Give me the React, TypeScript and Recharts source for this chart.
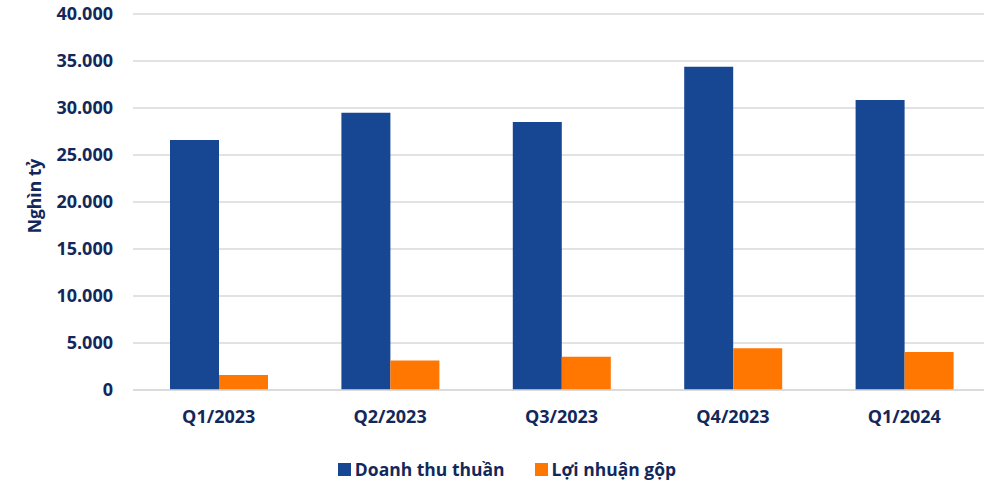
import React from 'react';
import { BarChart, Bar, XAxis, YAxis, CartesianGrid, Legend } from 'recharts';

const quarters = ['Q1/2023', 'Q2/2023', 'Q3/2023', 'Q4/2023', 'Q1/2024'];
const doanhThu = [26600, 29500, 28500, 34400, 30850];
const loiNhuan = [1600, 3150, 3550, 4450, 4050];
const yTicks = [0, 5000, 10000, 15000, 20000, 25000, 30000, 35000, 40000];

const NAVY = '#13285A';
const BLUE = '#174793';
const ORANGE = '#FF7600';
const FONT = '"Open Sans", sans-serif';

const data = quarters.map((q, i) => ({ q, dt: doanhThu[i], ln: loiNhuan[i] }));

const fmt = (v: number) => v.toLocaleString('de-DE');

// rotated axis title, sits a little above the plot centre like the original
const YLabel = (props: any) => {
  const vb = props.viewBox || {};
  const cx = 34;
  const cy = vb.y + vb.height / 2 - 6;
  return (
    <text
      x={cx}
      y={cy}
      transform={`rotate(-90 ${cx} ${cy})`}
      textAnchor="middle"
      dominantBaseline="central"
      fill={NAVY}
      fontFamily={FONT}
      fontWeight={700}
      fontSize={17.5}
    >
      Nghìn tỷ
    </text>
  );
};

const LegendBox = () => (
  <div
    style={{
      height: 30,
      paddingTop: 4,
      boxSizing: 'border-box',
      display: 'flex',
      justifyContent: 'center',
      alignItems: 'center',
      fontFamily: FONT,
      fontWeight: 700,
      fontSize: 17.5,
      color: NAVY,
      paddingLeft: 24,
    }}
  >
    <span style={{ width: 13, height: 13, background: BLUE, marginRight: 4 }} />
    <span style={{ marginRight: 30 }}>Doanh thu thuần</span>
    <span style={{ width: 13, height: 13, background: ORANGE, marginRight: 4 }} />
    <span>Lợi nhuận gộp</span>
  </div>
);

export default function App() {
  return (
    <div style={{ position: 'absolute', left: 0, top: 0, width: 984, height: 482, overflow: 'hidden', background: '#fff' }}>
      <BarChart
        width={990}
        height={482}
        data={data}
        margin={{ top: 14, right: 0, left: 0, bottom: 22 }}
        barGap={0}
      >
        <CartesianGrid vertical={false} stroke="#D9D9D9" strokeWidth={1.5} />
        <XAxis
          dataKey="q"
          axisLine={{ stroke: '#D9D9D9', strokeWidth: 1.5 }}
          tickLine={false}
          tickSize={0}
          tickMargin={20}
          height={40}
          tick={{ fill: NAVY, fontFamily: FONT, fontWeight: 700, fontSize: 18 }}
        />
        <YAxis
          width={133}
          domain={[0, 40000]}
          ticks={yTicks}
          tickFormatter={fmt}
          axisLine={false}
          tickLine={false}
          tickSize={0}
          tickMargin={20}
          tick={{ fill: NAVY, fontFamily: FONT, fontWeight: 700, fontSize: 18 }}
          label={<YLabel />}
        />
        <Legend verticalAlign="bottom" wrapperStyle={{ bottom: 0 }} content={<LegendBox />} />
        <Bar dataKey="dt" name="Doanh thu thuần" fill={BLUE} barSize={49} isAnimationActive={false} />
        <Bar dataKey="ln" name="Lợi nhuận gộp" fill={ORANGE} barSize={49} isAnimationActive={false} />
      </BarChart>
    </div>
  );
}
